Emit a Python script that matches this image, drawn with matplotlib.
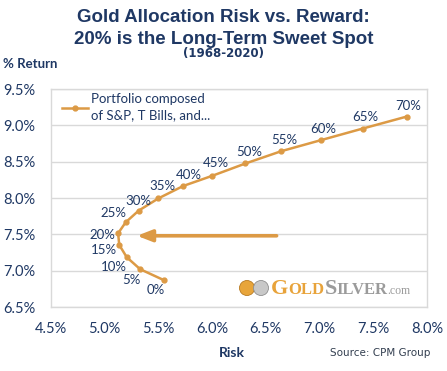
import matplotlib.pyplot as plt
from matplotlib.patches import Ellipse

# gold allocation (%) along the curve
gold_pct = [0, 5, 10, 15, 20, 25, 30, 35, 40, 45, 50, 55, 60, 65, 70]
risk = [5.55, 5.33, 5.205, 5.135, 5.125, 5.195, 5.315, 5.50, 5.73, 6.00,
        6.31, 6.645, 7.01, 7.40, 7.81]
ret = [6.87, 7.02, 7.185, 7.355, 7.515, 7.665, 7.825, 7.995, 8.165, 8.305,
       8.475, 8.645, 8.795, 8.955, 9.12]

x_ticks = [4.5, 5.0, 5.5, 6.0, 6.5, 7.0, 7.5, 8.0]
y_ticks = [6.5, 7.0, 7.5, 8.0, 8.5, 9.0, 9.5]

# arrow pointing at the 20% sweet spot
arrow_y = 7.48
arrow_from = 6.60
arrow_to = 5.30

navy = '#1F3864'
gold = '#DC9A45'
grid = '#D9D9D9'
body_font = 'Lato'

# label offsets in points (dx, dy)
label_off = [(-6, -7), (-6, -8), (-9, -7), (-11, -4), (-11, -1), (-9, 7),
             (0, 7), (3, 9), (4, 8), (3, 9), (3, 8), (2, 8), (2, 8), (2, 8), (1, 8)]

fig = plt.figure(figsize=(4.47, 3.71), dpi=100)
ax = fig.add_axes([51 / 447, 64 / 371, 376 / 447, 218 / 371])

ax.plot(risk, ret, color=gold, lw=1.8, marker='o', ms=3.5, zorder=3,
        label='Portfolio composed\nof S&P, T Bills, and...')

for g, x, y, off in zip(gold_pct, risk, ret, label_off):
    ax.annotate(f'{g}%', (x, y), xytext=off, textcoords='offset points',
                ha='center', va='center', color=navy, fontsize=9.5,
                family=body_font)

ax.annotate('', xy=(arrow_to, arrow_y), xytext=(arrow_from, arrow_y),
            arrowprops=dict(arrowstyle='-|>,head_length=0.9,head_width=0.35',
                            color=gold, lw=2.6, shrinkA=0, shrinkB=0))

ax.set_xlim(4.5, 8.0)
ax.set_ylim(6.5, 9.5)
ax.set_xticks(x_ticks)
ax.set_yticks(y_ticks)
ax.set_xticklabels([f'{v:.1f}%' for v in x_ticks])
ax.set_yticklabels([f'{v:.1f}%' for v in y_ticks])
ax.tick_params(length=0, colors=navy, labelsize=10.5)
ax.tick_params(axis='x', pad=11)
ax.tick_params(axis='y', pad=11.5)
for lab in ax.get_xticklabels() + ax.get_yticklabels():
    lab.set_family(body_font)
ax.yaxis.grid(True, color=grid, lw=1)
ax.set_axisbelow(True)
for s in ax.spines.values():
    s.set_color(grid)
    s.set_linewidth(1)

leg = ax.legend(loc='upper left', bbox_to_anchor=(0.0, 1.03), frameon=False,
                handlelength=2.0, handletextpad=0.2, borderpad=0.3,
                prop={'family': body_font, 'size': 9.5})
for t in leg.get_texts():
    t.set_color(navy)
    t.set_linespacing(1.45)

# titles and captions
fig.text(0.5, 1 - 17 / 371, 'Gold Allocation Risk vs. Reward:', ha='center', va='center',
         fontsize=13.5, fontweight='bold', color=navy, family='Liberation Sans')
fig.text(0.5, 1 - 39 / 371, '20% is the Long-Term Sweet Spot', ha='center', va='center',
         fontsize=13.5, fontweight='bold', color=navy, family='Liberation Sans')
fig.text(0.5, 1 - 54 / 371, '(1968-2020)', ha='center', va='center',
         fontsize=8.5, fontweight='bold', color=navy, family='Liberation Sans Narrow')
fig.text(3 / 447, 1 - 64 / 371, '% Return', ha='left', va='center',
         fontsize=9.5, fontweight='bold', color=navy, family=body_font)
fig.text(232 / 447, 1 - 353 / 371, 'Risk', ha='center', va='center',
         fontsize=10, fontweight='bold', color=navy, family=body_font)
fig.text(430 / 447, 1 - 353 / 371, 'Source: CPM Group', ha='right', va='center',
         fontsize=7.5, color='#333F50', family='DejaVu Sans')

# logo: two coins and the wordmark
for cx, fc, ec in [(247, '#E8A53A', '#B87A20'), (261, '#C8C8C8', '#8F8F8F')]:
    fig.patches.append(Ellipse((cx / 447, 1 - 288 / 371), 15 / 447, 15 / 371,
                               transform=fig.transFigure,
                               facecolor=fc, edgecolor=ec, lw=0.6))
x0 = 271
parts = [('G', 16, '#E8A33A'), ('OLD', 12, '#E8A33A'), ('S', 16, '#9B9B9B'),
         ('ILVER', 12, '#9B9B9B'), ('.com', 8.5, '#9B9B9B')]
r = fig.canvas.get_renderer()
for txt, size, col in parts:
    t = fig.text(x0 / 447, 1 - 294.5 / 371, txt, ha='left', va='baseline', fontsize=size,
                 color=col, family='Liberation Serif',
                 fontweight='bold' if size > 9 else 'normal')
    bb = t.get_window_extent(renderer=r)
    x0 += bb.width

fig.savefig('out.png', dpi=100)
